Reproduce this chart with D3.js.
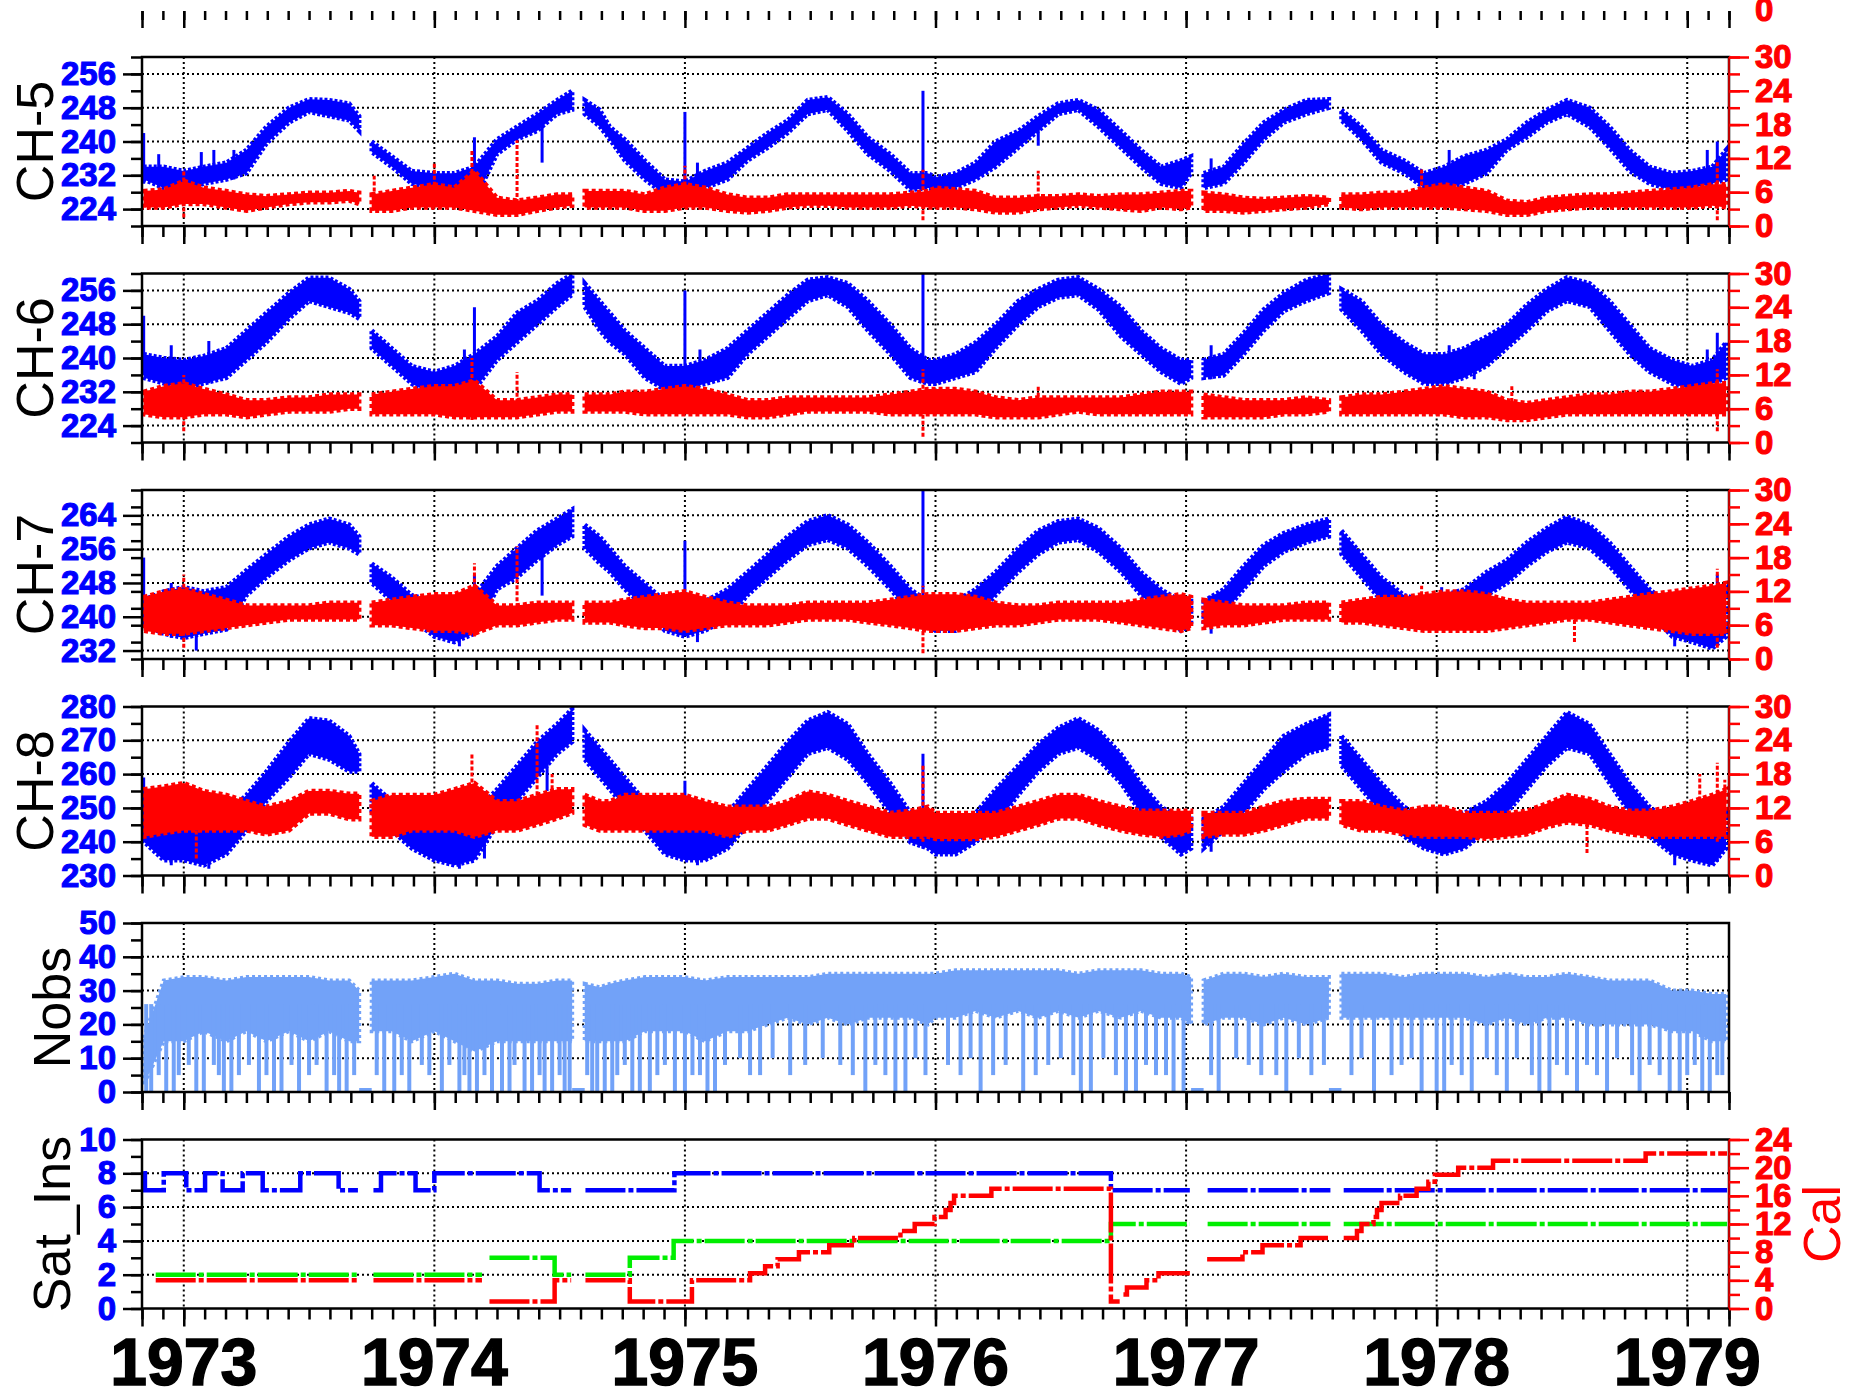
<!DOCTYPE html>
<html lang="en">
<head>
<meta charset="utf-8">
<title>HIRS channels 1973-1979</title>
<script src="https://cdn.jsdelivr.net/npm/d3@7"></script>
<style>
  body { margin: 0; background: #fff; }
  text { font-family: "Liberation Sans", Arial, sans-serif; }
</style>
</head>
<body>
<script>
// ---- data (decimal years) ----
var xDomain = [1972.8333, 1979.1667];
var years = [1973, 1974, 1975, 1976, 1977, 1978, 1979];

// sample times, null = data gap
var T = [
  1972.84, 1972.92, 1973.00, 1973.08, 1973.17, 1973.25, 1973.33, 1973.42, 1973.50, 1973.58, 1973.66, 1973.70, null,
  1973.75, 1973.83, 1973.91, 1974.00, 1974.08, 1974.16, 1974.25, 1974.33, 1974.41, 1974.49, 1974.55, null,
  1974.60, 1974.66, 1974.70, 1974.76, 1974.84, 1974.92, 1975.00, 1975.08, 1975.17, 1975.25, 1975.33, 1975.41,
  1975.49, 1975.57, 1975.65, 1975.73, 1975.82, 1975.90, 1975.97, 1976.00, 1976.08, 1976.16, 1976.24, 1976.33,
  1976.41, 1976.49, 1976.57, 1976.65, 1976.74, 1976.82, 1976.90, 1976.98, 1977.02, null,
  1977.07, 1977.15, 1977.23, 1977.31, 1977.39, 1977.48, 1977.57, null,
  1977.62, 1977.70, 1977.78, 1977.87, 1977.95, 1978.03, 1978.11, 1978.20, 1978.28, 1978.36, 1978.44, 1978.52,
  1978.61, 1978.69, 1978.77, 1978.85, 1978.94, 1979.02, 1979.10, 1979.155
];

// [low, high] of the blue (left axis) and red (right axis) bands
var ch5Blue = [
  [231,234],[229,234],[228.5,233],[230,234],[231,235],[232.5,238],[239.5,243.5],[244.5,248],[247,250],[246,249.8],[245,249],[242.5,246], null,
  [237.5,240],[234,236.5],[230,233],[229,232.5],[227,232.5],[226,234],[237,240.5],[240.5,243.5],[242.5,246.5],[246.5,249.8],[247.5,252], null,
  [246.5,249.8],[243.5,247.5],[240.5,243.5],[235.5,240.5],[231,235.5],[227.5,231],[227,230.5],[229,233],[231,235],[235.5,238.5],[238.5,242],[242,245],
  [246.5,249.8],[247.5,250.5],[242.5,246.5],[237,241],[233,237],[228.5,232.5],[229,232.5],[228.5,231.5],[229,232.5],[231,235],[234,240],[238.5,242.5],
  [242.5,246],[246.5,249],[247.5,249.8],[243.5,247.5],[238.5,242.5],[234,238],[230,234],[229,235.5],[232.5,236.5], null,
  [229,232.5],[230,234],[235,239.5],[240.5,244.5],[244.5,247.5],[246.5,249.8],[248,250], null,
  [245,247.5],[240.5,243.5],[235,238],[232.5,235.5],[229,232.5],[229,234],[230,236.5],[232.5,238],[238,240.5],[241,244.5],[244.5,247.5],[246.5,249.8],
  [243.5,248],[238.5,243.5],[233,238],[230,234],[228.5,232.5],[229,233],[230,234],[231,238]
];
var ch5Red = [
  [3.3,6.2],[3.3,6.5],[3.9,8],[3.9,6.8],[3.3,6.2],[2.7,5.6],[3.3,5.3],[3.9,5.6],[4.2,5.9],[4.2,5.9],[4.5,6.2],[3.9,5.9], null,
  [2.7,5.6],[2.7,6.2],[3.3,6.8],[3.3,7.4],[3.3,6.8],[2.7,9.8],[2,5],[2,4.5],[2.7,5],[3.3,5.6],[3.6,5.6], null,
  [3.3,6.2],[3.3,6.2],[3.3,6.2],[3.3,6.2],[2.7,5.6],[2.7,6.8],[3.3,7.4],[3.3,6.8],[2.7,5.6],[2.4,5],[2.7,5],[3.3,5.6],
  [3.6,5.6],[3.6,5.6],[3.3,5.6],[3.3,5.6],[3.3,5.6],[3.6,5.9],[3.3,6.2],[3.3,6.8],[3.3,6.5],[3,6.2],[2.4,5],[2.4,5],
  [3,5.3],[3.3,5.3],[3.6,5.6],[3.3,5.3],[3,5.6],[2.7,5.6],[3.3,5.9],[3,6.2],[3.3,6.2], null,
  [2.7,5.9],[2.7,5.6],[2.4,5],[2.7,4.8],[3,5],[3.3,5.3],[3.9,5], null,
  [3.3,5.6],[3,5.6],[3.3,5.9],[3.3,5.9],[3.3,6.8],[3.3,7.4],[3,6.8],[2.7,6.2],[2,4.5],[2,4.2],[2.7,5],[3,5.3],
  [3.3,5.6],[3.3,5.6],[3.3,5.9],[3.3,6.2],[3.3,6.5],[3.3,6.8],[3.6,7.4],[3.3,7.4]
];
var ch6Blue = [
  [235.3,240.9],[234,240],[232.5,239.5],[234,240.5],[235.3,242.3],[239.5,246.5],[243.7,250.7],[249.3,255.4],[253.5,259],[252.1,259],[250.7,256.3],[249.3,253.5], null,
  [242.3,246.5],[238.1,242.3],[233.9,238.1],[231.1,236.7],[232.5,238.1],[232.5,240.9],[239.5,245.1],[243.7,250.7],[247.9,253.5],[252.1,257.7],[255,259.9], null,
  [252.1,257.7],[246.5,253.5],[243.7,250.7],[240.9,246.5],[235.3,242.3],[232.5,238.1],[232.5,238.1],[233.9,239.5],[235.3,242.3],[240.9,246.5],[245.1,250.7],[249.3,254.9],
  [253.5,258.5],[254.9,259.1],[252.1,257.7],[246.5,253.5],[240.9,247.9],[235.3,242.3],[233.9,239.5],[233.9,239.5],[235.3,240.9],[236.7,243.7],[242.3,247.9],[247.9,253.5],
  [252.1,256.3],[254.3,258.5],[254.9,259.1],[251.5,256.3],[245.1,252.1],[240.9,246.5],[236.7,242.3],[233.9,239.5],[235.3,239.5], null,
  [235.3,239.5],[235.9,240.9],[240.9,245.9],[246.5,251.5],[251.1,255.4],[253.5,258.5],[255.4,259.9], null,
  [251.5,256.3],[246.5,253.5],[240.9,247.9],[236.7,243.7],[233.9,240.9],[233.9,240.9],[235.3,242.3],[238.1,245.1],[242.3,247.9],[246.5,252.6],[251.1,256.3],[253.5,259.1],
  [252.1,257.7],[246.5,253.5],[240.9,247.9],[236.7,242.3],[233.9,239.5],[232.5,238.1],[233.9,239.5],[235.3,243.7]
];
var ch6Red = [
  [5,9],[4.5,10],[4.5,10.5],[5,9.5],[5,8.5],[4.5,7.5],[5,7.5],[5.5,8],[5.5,8],[5.5,8.5],[6,8.5],[6,8.5], null,
  [5,8.5],[5,9],[5,9.5],[5,10],[4.5,10],[4.5,11],[4.5,7.5],[4.5,7.5],[5,8],[5.5,8.5],[5.5,8.5], null,
  [5.5,8.5],[5.5,8.5],[5.5,8.5],[5.5,9],[5,9],[5,9.5],[5,10],[5,9.5],[5,8.5],[4.5,7.5],[4.5,7.5],[5,8],
  [5.5,8],[5.5,8],[5.5,8],[5.5,8],[5,8.5],[5,9],[5,9.5],[5,9.5],[5,9.5],[5,9],[4.5,8],[4.5,7.5],
  [4.5,8],[5,8],[5.5,8],[5,8],[5,8],[5,8.5],[5,9],[5,9],[5,9], null,
  [4.5,8.5],[4.5,8],[4.5,7.5],[4.5,7.5],[5,7.5],[5,8],[5.5,7.5], null,
  [5,8],[5,8.5],[5,8.5],[5,9],[5,9.5],[5,10],[4.5,9.5],[4.5,9],[4,7.5],[4,7],[4.5,7.5],[5,8],
  [5,8.5],[5,8.5],[5,9],[5,9],[5,9.5],[5,10],[5,10.5],[5,10.5]
];
var ch7Blue = [
  [238,244],[236,246],[235,247],[236,246],[237,247],[245,251],[249.3,254.8],[253.4,259],[256.2,261.8],[257.6,263.2],[256.2,261.8],[254.8,259], null,
  [248,252.6],[243.7,249.3],[239.5,245.1],[235.3,243.7],[234,242.3],[236,245],[246.5,252],[249.3,256.2],[253.4,260.4],[257,263.2],[259,265.4], null,
  [256.2,261.8],[252.6,259],[250.6,256.2],[246.5,252],[242.3,247.9],[236.7,243.7],[235.3,242.3],[236.7,243.7],[239.5,246.5],[245.1,250.6],[249.3,254.8],[253.4,259],
  [257,262.6],[258.2,264],[256.2,261.8],[252,257.6],[246.5,252],[240.9,246.5],[238.1,243.7],[236.7,243.7],[236.7,243.7],[239.5,246.5],[245.1,250.6],[250.6,256.2],
  [254.8,260.4],[257.6,262.6],[258.2,263.2],[255.4,261],[250.6,256.2],[245.1,250.6],[240.9,246.5],[236.7,243.7],[238.1,243.7], null,
  [238.1,243.7],[240.9,246.5],[246.5,252],[252,257],[255.4,259.8],[257.6,261.8],[259,263.2], null,
  [254.8,260.4],[249.3,254.8],[243.7,249.3],[239.5,245.1],[238.1,243.7],[238.1,245.1],[239.5,246.5],[245.1,250.6],[247.9,253.4],[252,257.6],[255.4,261],[257.6,263.7],
  [256.2,261.8],[252,257.6],[246.5,252],[240.9,246.5],[235.3,242.3],[234,242.3],[232.5,242.3],[235.3,246.5]
];
var ch7Red = [
  [5,11],[4.5,12],[4.5,12.5],[5,11.5],[5.5,10.5],[6,9.5],[6.5,9.5],[7,9.5],[7,9.5],[7,10],[7,10],[7,10], null,
  [6,10],[6,10.5],[5.5,11],[5,11.5],[5,11.5],[4.5,13],[6,9.5],[6,9.5],[6.5,10],[7,10],[7,10], null,
  [6.5,10],[6.5,10],[6.5,10],[6,10.5],[5.5,11],[5.5,11.5],[5,12],[5.5,11],[6,10],[6,9.5],[6,9.5],[6.5,9.5],
  [7,10],[7,10],[7,10],[6.5,10],[6,10.5],[5.5,11],[5,11.5],[5,11.5],[5,11.5],[5.5,11],[6,10],[6,9.5],
  [6.5,9.5],[7,10],[7,10],[7,10],[6.5,10],[6,10.5],[5.5,11],[5,11.5],[5.5,11], null,
  [5.5,10.5],[6,10],[6,9.5],[6.5,9.5],[7,9.5],[7,10],[7,10], null,
  [6.5,10],[6.5,10.5],[6,11],[5.5,11],[5,11.5],[5,12],[5,12],[5,11.5],[5.5,10.5],[6,10],[6.5,10],[7,10],
  [7,10],[6.5,10.5],[6,11],[5.5,11.5],[5,12],[4.5,12.5],[4.5,13],[4.5,13.5]
];
var ch8Blue = [
  [240,248.5],[234.5,245],[234.5,245],[233,245],[236.3,248.5],[243.3,253.8],[252,260.8],[259,269.5],[266,276.5],[264.3,275.8],[260.8,271.3],[260.8,266], null,
  [248.5,257.3],[243.3,252],[238,248.5],[234.5,245],[233,245],[234.5,248.5],[245,255.5],[252,262.5],[259,269.5],[266,274.8],[269.5,279.3], null,
  [264.3,273],[259,267.8],[255.5,264.3],[250.3,259],[243.3,252],[236.3,246.8],[234.5,245],[234.5,245],[238,248.5],[245,255.5],[252,262.5],[259,269.5],
  [266,275.8],[267.8,278.3],[264.3,274.8],[257.3,266],[248.5,257.3],[239.8,248.5],[238,246.8],[236.3,245],[236.3,245],[239.8,248.5],[245,255.5],[253.8,262.5],
  [260.8,268.8],[266,273.7],[267.8,276.5],[264.3,273],[257.3,266],[248.5,257.3],[241.5,250.3],[236.3,246.8],[238,246.8], null,
  [238,246.8],[243.3,250.3],[248.5,257.3],[255.5,264.3],[260.8,271.3],[266,274.8],[267.8,277.6], null,
  [262.5,271.3],[255.5,264.3],[248.5,257.3],[241.5,250.3],[238,246.8],[236.3,246.8],[238,248.5],[243.3,252],[248.5,257.3],[255.5,264.3],[262.5,271.3],[267.8,278.3],
  [266,274.8],[257.3,266],[248.5,257.3],[241.5,250.3],[236.3,245],[234.5,243.3],[233,245],[238,248.5]
];
var ch8Red = [
  [6.9,15.3],[7.5,15.8],[8,16.4],[8,15],[8,14.3],[8,13.2],[7.3,12.2],[8,13.2],[11,15],[11,15],[10,14.5],[10,14.5], null,
  [6.9,13.2],[6.9,14.3],[8,14.3],[8,14.3],[8,15.3],[6.9,16.4],[8,13.2],[8,13.2],[9,14.3],[10.1,15.3],[11.1,15.3], null,
  [9,14.3],[8,13.2],[8,13.2],[8,14.3],[8,14.3],[8,14.3],[8,14.3],[8,13.2],[6.9,12.2],[8,12.2],[8,12.2],[9,13.2],
  [10.1,14.9],[10.1,14.3],[9,13.2],[8,12.2],[6.9,11.1],[6.9,11.5],[6.9,12.2],[6.5,11.1],[6.5,11.1],[6.5,11.1],[6.9,11.1],[8,12.2],
  [9,13.2],[10.1,14.3],[10.1,14.3],[9,13.2],[8,12.2],[7.3,11.5],[6.9,11.5],[7.3,11.5],[8,11.5], null,
  [6.9,11.1],[7.3,11.1],[7.3,11.1],[8,12.2],[9,13.2],[10.1,13.6],[10.1,13.6], null,
  [9,13.2],[8,13.2],[8,12.2],[7.3,11.5],[6.9,12.2],[6.9,12.2],[6.9,11.1],[6.5,11.1],[6.9,11.1],[7.3,11.5],[8.6,12.8],[9.4,14.3],
  [9,13.6],[8,12.2],[7.3,11.5],[6.9,11.5],[6.9,12.2],[6.9,13.2],[6.9,14.3],[6.9,15.3]
];

// single spikes: [time, low, high]
var ch5BlueSpikes = [[1972.84,230,242],[1972.9,229,237],[1973.07,230,237.5],[1973.12,231,238],[1973.2,231,238],[1974.1,226,232],[1974.16,230,241],[1974.43,235,245],
  [1975.0,228,247],[1975.05,229,235],[1975.95,230,252],[1976.41,239,245],[1977.1,230,236],[1978.05,229,238],[1978.12,231,237],[1979.08,230,238],[1979.12,230,240]];
var ch5RedSpikes = [[1973.0,1.5,9.8],[1973.76,4,8.9],[1974.0,5,11.3],[1974.15,3,13.4],[1974.33,3,15.2],[1975.0,4,10.7],[1975.95,1,10],[1976.41,4,9.8],[1977.94,4,10.4],[1979.12,1,11.6]];
var ch6BlueSpikes = [[1972.84,236,250],[1972.95,234,243],[1973.1,234,244],[1974.16,234,252],[1974.12,232,242],[1975.0,233,256],[1975.06,234,242],
  [1975.95,234,260],[1977.1,235,243],[1978.05,234,243],[1978.15,235,244],[1979.08,233,242],[1979.12,234,246]];
var ch6RedSpikes = [[1973.0,2,12],[1974.15,4,15],[1974.33,6,12.5],[1975.95,1,13],[1976.41,6,10],[1978.3,4,10],[1979.12,2,13]];
var ch7BlueSpikes = [[1972.84,238,254],[1972.95,235,248],[1973.05,232,246],[1974.16,236,250],[1974.1,233,244],[1974.43,245,258],[1975.0,236,258],[1975.05,234,244],
  [1975.95,238,270],[1977.1,236,245],[1978.02,237,247],[1978.95,233,243],[1979.12,234,250]];
var ch7RedSpikes = [[1973.0,2,15],[1974.16,4,17],[1974.33,6,20],[1975.95,1,13],[1977.94,6,13],[1978.55,3,10],[1979.12,2,16]];
var ch8BlueSpikes = [[1972.84,240,259],[1972.95,233,246],[1973.1,232,244],[1974.2,235,255],[1974.1,232,244],[1974.45,255,270],[1975.0,236,258],[1975.05,233,244],
  [1975.95,238,266],[1977.1,237,248],[1978.02,236,247],[1978.95,233,243],[1979.12,234,252]];
var ch8RedSpikes = [[1973.05,3,12],[1974.15,8,21.6],[1974.41,10,26.8],[1974.47,10,18],[1975.95,6,19.5],[1978.6,4,10],[1979.05,8,18],[1979.12,6,20],[1979.15,8,17]];

// number of observations: [low edge of dense band, top]
var nobs = [
  [2,16],[15,33],[15,34],[18,34],[15,33],[18,34],[15,34],[18,34],[15,34],[18,33],[15,33],[15,30], null,
  [18,33],[18,33],[15,33],[18,34],[15,35],[12,33],[15,33],[15,32],[15,32],[15,33],[15,33], null,
  [15,32],[15,31],[15,32],[15,33],[18,34],[18,34],[18,34],[15,33],[18,34],[18,34],[20,34],[22,34],
  [20,34],[22,35],[20,35],[22,35],[22,35],[22,35],[20,35],[22,35],[22,36],[24,36],[22,36],[24,36],
  [22,36],[24,36],[22,35],[24,36],[22,36],[24,36],[22,35],[22,35],[20,34], null,
  [20,33],[22,35],[22,35],[20,34],[22,35],[20,34],[22,34], null,
  [22,35],[22,35],[22,35],[22,34],[22,35],[22,35],[22,35],[20,34],[22,35],[20,34],[22,34],[22,35],
  [20,34],[20,33],[20,33],[20,33],[18,30],[18,30],[15,29],[15,29]
];
// drops of Nobs: [time, minimum]
var nobsDrops = [
  [1972.85,0],[1972.87,0],[1972.9,5],[1972.93,0],[1972.96,0],[1972.98,5],[1973.02,8],[1973.05,0],[1973.08,0],[1973.12,8],[1973.14,5],[1973.16,0],[1973.19,0],
  [1973.22,5],[1973.26,8],[1973.3,0],[1973.33,5],[1973.36,0],[1973.39,0],[1973.43,8],[1973.46,0],[1973.5,5],[1973.53,8],[1973.57,0],[1973.6,5],[1973.62,0],[1973.65,0],[1973.68,5],
  [1973.77,5],[1973.8,0],[1973.84,0],[1973.87,5],[1973.9,0],[1973.95,8],[1973.98,5],[1974.03,0],[1974.06,8],[1974.1,0],[1974.12,5],[1974.14,0],[1974.17,0],
  [1974.2,5],[1974.23,0],[1974.27,0],[1974.3,0],[1974.32,8],[1974.36,0],[1974.39,0],[1974.42,5],[1974.44,0],[1974.47,0],[1974.5,5],[1974.52,0],[1974.54,0],
  [1974.61,5],[1974.63,0],[1974.65,0],[1974.68,0],[1974.71,0],[1974.73,5],[1974.76,8],[1974.79,0],[1974.82,0],[1974.86,0],[1974.89,5],[1974.92,8],[1974.96,0],
  [1975.0,0],[1975.03,5],[1975.06,5],[1975.09,0],[1975.12,0],[1975.16,8],[1975.22,10],[1975.26,5],[1975.3,5],[1975.35,10],[1975.42,5],[1975.48,8],[1975.55,10],[1975.62,8],[1975.67,5],
  [1975.72,0],[1975.76,8],[1975.8,5],[1975.84,0],[1975.88,0],[1975.92,10],[1975.96,5],[1976.05,8],[1976.1,5],[1976.14,10],[1976.18,0],[1976.23,5],[1976.28,8],[1976.35,0],
  [1976.4,5],[1976.45,8],[1976.5,10],[1976.55,5],[1976.58,0],[1976.62,0],[1976.67,10],[1976.72,5],[1976.76,0],[1976.8,0],[1976.84,8],[1976.88,5],[1976.92,5],[1976.95,0],[1976.99,0],
  [1977.1,5],[1977.13,0],[1977.2,10],[1977.25,8],[1977.3,5],[1977.36,5],[1977.4,0],[1977.45,10],[1977.5,5],[1977.55,8],
  [1977.66,5],[1977.7,10],[1977.75,0],[1977.82,5],[1977.86,8],[1977.9,10],[1977.94,0],
  [1978.0,0],[1978.03,0],[1978.06,8],[1978.1,5],[1978.14,0],[1978.2,10],[1978.24,5],[1978.28,0],[1978.32,10],[1978.38,5],[1978.41,0],[1978.45,0],[1978.48,8],
  [1978.52,5],[1978.56,0],[1978.6,8],[1978.64,5],[1978.68,0],[1978.72,10],[1978.78,5],[1978.81,0],[1978.85,8],[1978.89,5],[1978.93,0],[1978.97,0],
  [1979.0,5],[1979.03,8],[1979.06,0],[1979.09,0],[1979.12,5],[1979.14,5]
];

// step series: [time, value] (value held until next point), null = gap
var satSteps = [
  [1972.838,8],[1972.845,7],[1972.92,8],[1973.01,7],[1973.085,8],[1973.155,7],[1973.235,8],[1973.315,7],[1973.465,8],[1973.618,7],[1973.695,7], null,
  [1973.757,7],[1973.787,8],[1973.925,7],[1974.0,8],[1974.42,7],[1974.546,7], null,
  [1974.603,7],[1974.958,8],[1976.70,7],[1977.015,7], null,
  [1977.086,7],[1977.576,7], null,
  [1977.629,7],[1979.159,7]
];
var insSteps = [
  [1972.888,2],[1973.692,2], null, [1973.757,2],[1974.19,2], null,
  [1974.22,3],[1974.48,2],[1974.546,2], null,
  [1974.603,2],[1974.78,3],[1974.955,4],[1976.70,5],[1977.015,5], null,
  [1977.086,5],[1977.576,5], null, [1977.629,5],[1979.159,5]
];
var calSteps = [
  [1972.888,4],[1973.692,4], null, [1973.757,4],[1974.19,4], null,
  [1974.22,1],[1974.48,4],[1974.546,4], null,
  [1974.603,4],[1974.78,1],[1975.028,4],[1975.26,5],[1975.32,6],[1975.37,7],[1975.455,8],[1975.576,9],[1975.676,10],[1975.86,11],
  [1975.917,12],[1975.996,13],[1976.04,14],[1976.06,15],[1976.074,16],[1976.223,17],[1976.70,1],[1976.735,1], null,
  [1976.75,2],[1976.764,3],[1976.842,4],[1976.89,5],[1977.015,5], null,
  [1977.084,7],[1977.225,8],[1977.305,9],[1977.457,10],[1977.576,10], null,
  [1977.629,10],[1977.682,11],[1977.70,12],[1977.748,13],[1977.762,14],[1977.78,15],[1977.854,16],[1977.92,17],[1977.967,18],
  [1977.993,19],[1978.086,20],[1978.225,21],[1978.834,22],[1979.159,22]
];

// axis tick labels
var ch56Ticks = [224, 232, 240, 248, 256];
var ch7Ticks = [232, 240, 248, 256, 264];
var ch8Ticks = [230, 240, 250, 260, 270, 280];
var redTicks = [0, 6, 12, 18, 24, 30];
var nobsTicks = [0, 10, 20, 30, 40, 50];
var satTicks = [0, 2, 4, 6, 8, 10];
var calTicks = [0, 4, 8, 12, 16, 20, 24];

// ---- layout ----
var W = 1849, H = 1392;
var L = 142, R = 1729, PH = 169;
var tops = [57, 273.5, 490, 706.5, 923, 1139.5];
var BLUE = "#0000ff", RED = "#ff0000", GREEN = "#00ee00", NOBS = "#72a2f8";
var FONT = '"Liberation Sans", Arial, sans-serif';

var svg = d3.select("body").append("svg").attr("width", W).attr("height", H);
var x = d3.scaleLinear().domain(xDomain).range([L, R]);
var monthTicks = d3.range(0, 77).map(function(i) { return xDomain[0] + i / 12; });
var majorX = [xDomain[0]].concat(years, [xDomain[1]]);

function rows(arr) {
  return T.map(function(t, i) { return {t: t, v: t == null ? null : arr[i]}; });
}

function band(y) {
  return d3.area()
    .defined(function(d) { return d.v != null; })
    .x(function(d) { return x(d.t); })
    .y0(function(d) { return y(d.v[0]); })
    .y1(function(d) { return y(d.v[1]); });
}

function styleAxis(a, color, w) {
  a.select(".domain").remove();
  a.selectAll("line").attr("stroke", color).attr("stroke-width", w || 2.5);
}

// heavy tick labels, a thin outline thickens the bold face
function labelStyle(sel, color) {
  sel.style("fill", color)
    .style("stroke", color)
    .style("stroke-width", "1.1px")
    .style("font-family", FONT)
    .style("font-size", "33px")
    .style("font-weight", "bold");
}

function bottomTicks(g, yPos, major, minor) {
  var a1 = g.append("g").attr("transform", "translate(0," + yPos + ")")
    .call(d3.axisBottom(x).tickValues(monthTicks).tickSize(minor).tickFormat(""));
  var a2 = g.append("g").attr("transform", "translate(0," + yPos + ")")
    .call(d3.axisBottom(x).tickValues(majorX).tickSize(major).tickFormat(""));
  styleAxis(a1, "#000");
  styleAxis(a2, "#000");
}

function makePanel(i, yDom, ticks, minorStep, title, titleX) {
  var g = svg.append("g").attr("transform", "translate(0," + tops[i] + ")");
  var y = d3.scaleLinear().domain(yDom).range([PH, 0]);

  // dotted grid
  g.append("g").selectAll("line")
    .data(ticks.filter(function(v) { return v > yDom[0] && v < yDom[1]; }))
    .join("line")
    .attr("x1", L).attr("x2", R)
    .attr("y1", function(d) { return y(d); }).attr("y2", function(d) { return y(d); })
    .attr("stroke", "#000").attr("stroke-width", 2).attr("stroke-dasharray", "2,3");
  g.append("g").selectAll("line").data(years).join("line")
    .attr("x1", function(d) { return x(d); }).attr("x2", function(d) { return x(d); })
    .attr("y1", 0).attr("y2", PH)
    .attr("stroke", "#000").attr("stroke-width", 2).attr("stroke-dasharray", "2,3");

  g.append("clipPath").attr("id", "clip" + i)
    .append("rect").attr("x", L).attr("y", 0).attr("width", R - L).attr("height", PH);
  var data = g.append("g").attr("clip-path", "url(#clip" + i + ")");

  svg.append("text")
    .attr("transform", "translate(" + titleX + "," + (tops[i] + PH / 2) + ") rotate(-90)")
    .attr("text-anchor", "middle")
    .attr("font-size", 52)
    .attr("fill", "#000")
    .text(title);

  return {g: g, y: y, data: data, ticks: ticks, dom: yDom, minorStep: minorStep};
}

function finishPanel(p) {
  p.g.append("rect").attr("x", L).attr("y", 0).attr("width", R - L).attr("height", PH)
    .attr("fill", "none").attr("stroke", "#000").attr("stroke-width", 2.5);

  var minor = d3.range(p.dom[0], p.dom[1] + 0.001, p.minorStep);
  var a1 = p.g.append("g").attr("transform", "translate(" + L + ",0)")
    .call(d3.axisLeft(p.y).tickValues(minor).tickSize(11).tickFormat(""));
  var a2 = p.g.append("g").attr("transform", "translate(" + L + ",0)")
    .call(d3.axisLeft(p.y).tickValues(p.ticks).tickSize(19).tickPadding(7).tickFormat(d3.format("d")));
  styleAxis(a1, "#000");
  styleAxis(a2, "#000");
  labelStyle(a2.selectAll("text"), BLUE);

  bottomTicks(p.g, PH, 18, 11);
}

function rightAxis(p, yR, ticks, step) {
  var minor = d3.range(yR.domain()[0], yR.domain()[1] + 0.001, step);
  var a1 = p.g.append("g").attr("transform", "translate(" + R + ",0)")
    .call(d3.axisRight(yR).tickValues(minor).tickSize(11).tickFormat(""));
  var a2 = p.g.append("g").attr("transform", "translate(" + R + ",0)")
    .call(d3.axisRight(yR).tickValues(ticks).tickSize(20).tickPadding(6).tickFormat(d3.format("d")));
  styleAxis(a1, RED);
  styleAxis(a2, RED);
  labelStyle(a2.selectAll("text"), RED);
  p.g.append("line").attr("x1", R).attr("x2", R).attr("y1", 0).attr("y2", PH)
    .attr("stroke", RED).attr("stroke-width", 1.5);
}

function spikes(p, list, y, color, dash) {
  p.data.append("g").selectAll("line").data(list).join("line")
    .attr("x1", function(d) { return x(d[0]); }).attr("x2", function(d) { return x(d[0]); })
    .attr("y1", function(d) { return y(d[1]); }).attr("y2", function(d) { return y(d[2]); })
    .attr("stroke", color).attr("stroke-width", 3)
    .attr("stroke-dasharray", dash || null);
}

// ---- clipped panel above (only its ticks show) ----
bottomTicks(svg.append("g"), 11, 17, 9);
labelStyle(svg.append("text").attr("x", R + 26).attr("y", 9).attr("dy", "0.35em").text("0"), RED);

// ---- CH panels ----
var chPanels = [
  {title: "CH-5", dom: [220, 260], ticks: ch56Ticks, minor: 4, blue: ch5Blue, red: ch5Red, bs: ch5BlueSpikes, rs: ch5RedSpikes},
  {title: "CH-6", dom: [220, 260], ticks: ch56Ticks, minor: 4, blue: ch6Blue, red: ch6Red, bs: ch6BlueSpikes, rs: ch6RedSpikes},
  {title: "CH-7", dom: [230, 270], ticks: ch7Ticks, minor: 4, blue: ch7Blue, red: ch7Red, bs: ch7BlueSpikes, rs: ch7RedSpikes},
  {title: "CH-8", dom: [230, 280], ticks: ch8Ticks, minor: 5, blue: ch8Blue, red: ch8Red, bs: ch8BlueSpikes, rs: ch8RedSpikes}
];

chPanels.forEach(function(c, i) {
  var p = makePanel(i, c.dom, c.ticks, c.minor, c.title, 53);
  var yR = d3.scaleLinear().domain([0, 30]).range([PH, 0]);

  // fuzzy edge: a dashed thick outline on top of the filled band
  p.data.append("path").datum(rows(c.blue)).attr("d", band(p.y))
    .attr("fill", BLUE).attr("stroke", BLUE).attr("stroke-width", 4.5)
    .attr("stroke-dasharray", "3,2");
  spikes(p, c.bs, p.y, BLUE);

  p.data.append("path").datum(rows(c.red)).attr("d", band(yR))
    .attr("fill", RED).attr("stroke", RED).attr("stroke-width", 4.5)
    .attr("stroke-dasharray", "4,3");
  spikes(p, c.rs, yR, RED, "4,2");

  finishPanel(p);
  rightAxis(p, yR, redTicks, 3);
});

// ---- Nobs ----
(function() {
  var p = makePanel(4, [0, 50], nobsTicks, 5, "Nobs", 70);
  p.data.append("path").datum(rows(nobs)).attr("d", band(p.y))
    .attr("fill", NOBS).attr("stroke", NOBS).attr("stroke-width", 4)
    .attr("stroke-dasharray", "3,3");
  p.data.append("g").selectAll("line").data(nobsDrops).join("line")
    .attr("x1", function(d) { return x(d[0]); }).attr("x2", function(d) { return x(d[0]); })
    .attr("y1", function(d) { return p.y(d[1]); }).attr("y2", p.y(26))
    .attr("stroke", NOBS).attr("stroke-width", 4);
  // zero counts inside the data gaps
  var gaps = [];
  T.forEach(function(t, i) { if (t == null) gaps.push([T[i - 1], T[i + 1]]); });
  p.data.append("g").selectAll("line").data(gaps).join("line")
    .attr("x1", function(d) { return x(d[0]); }).attr("x2", function(d) { return x(d[1]); })
    .attr("y1", p.y(0) - 2.5).attr("y2", p.y(0) - 2.5)
    .attr("stroke", NOBS).attr("stroke-width", 3);
  finishPanel(p);
})();

// ---- Sat_Ins / Cal ----
(function() {
  var p = makePanel(5, [0, 10], satTicks, 1, "Sat_Ins", 70);
  var yC = d3.scaleLinear().domain([0, 24]).range([PH, 0]);
  function step(y) {
    return d3.line()
      .defined(function(d) { return d != null; })
      .x(function(d) { return x(d[0]); })
      .y(function(d) { return y(d[1]); })
      .curve(d3.curveStepAfter);
  }
  [[satSteps, p.y, BLUE], [insSteps, p.y, GREEN], [calSteps, yC, RED]].forEach(function(s) {
    p.data.append("path").datum(s[0]).attr("d", step(s[1]))
      .attr("fill", "none").attr("stroke", s[2]).attr("stroke-width", 4.5)
      .attr("stroke-dasharray", "40,3,5,3");
  });
  finishPanel(p);
  rightAxis(p, yC, calTicks, 2);

  svg.append("text")
    .attr("transform", "translate(1840," + (tops[5] + PH / 2) + ") rotate(-90)")
    .attr("text-anchor", "middle").attr("font-size", 52).attr("fill", RED)
    .text("Cal");

  // year labels
  svg.append("g").selectAll("text").data(years).join("text")
    .attr("x", function(d) { return x(d); })
    .attr("y", 1385)
    .attr("text-anchor", "middle")
    .style("font-size", "66px").style("font-weight", "bold")
    .style("fill", "#000").style("stroke", "#000").style("stroke-width", "1.5px")
    .text(function(d) { return d; });
})();
</script>
</body>
</html>
